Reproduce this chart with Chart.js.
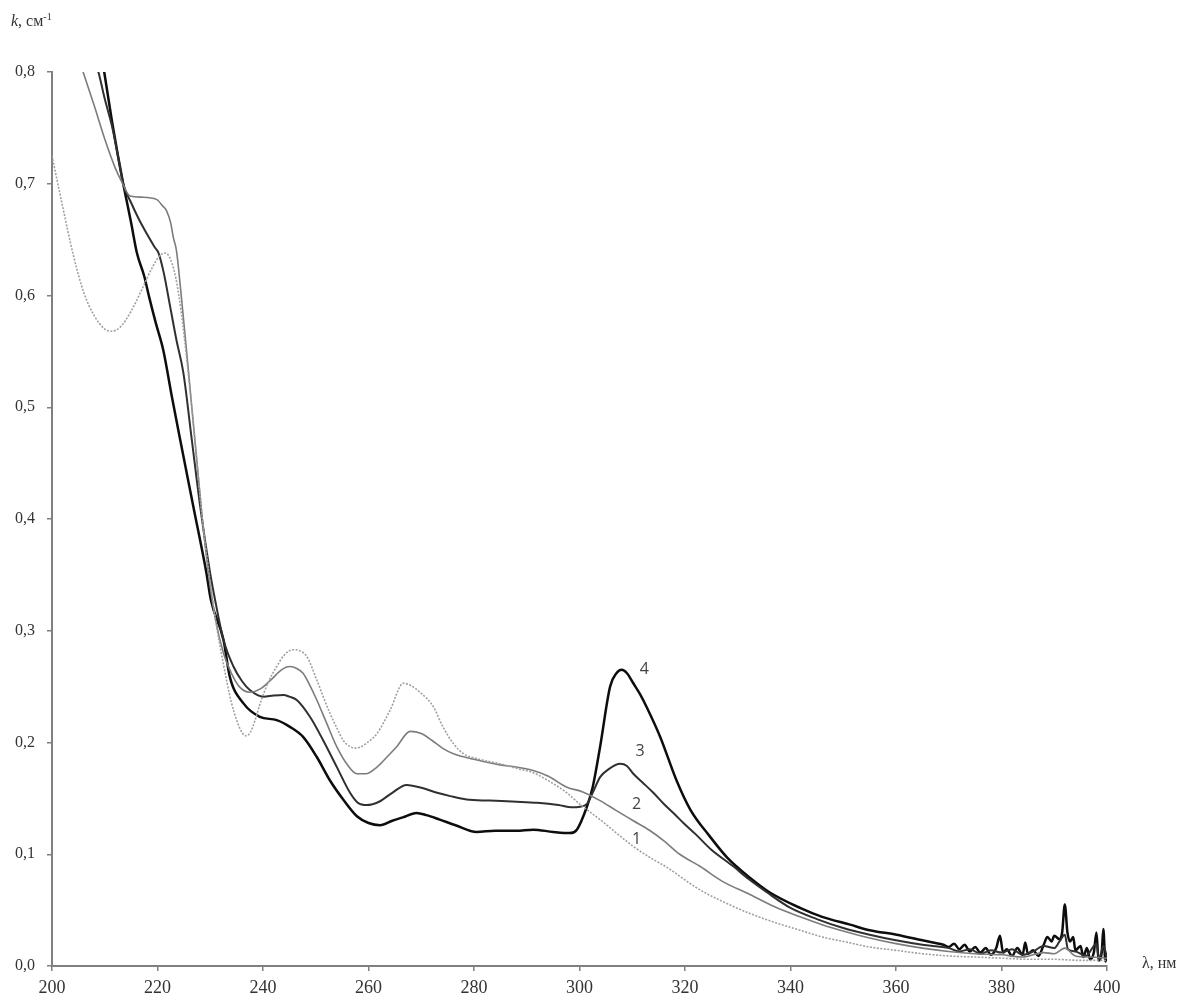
<!DOCTYPE html>
<html>
<head>
<meta charset="utf-8">
<script src="https://cdn.jsdelivr.net/npm/chart.js@4.4.1/dist/chart.umd.min.js"></script>
<style>
html,body{margin:0;padding:0;background:#fff;}
#wrap{position:relative;width:1185px;height:997px;}
</style>
</head>
<body>
<div id="wrap"><canvas id="c"></canvas></div>
<script>
// X ticks / Y ticks
const xTicks = [200, 220, 240, 260, 280, 300, 320, 340, 360, 380, 400];
const yTicks = [0.0, 0.1, 0.2, 0.3, 0.4, 0.5, 0.6, 0.7, 0.8];

// Curve 1
const wl1 = [200,202,204,206,208,210,211.3,213,215,217,219,220.5,221.5,222.5,223.5,224.5,225.5,226.5,227.5,228.5,229.8,231,232.5,234,235,236,236.8,237.6,238.5,239.4,241,242.6,244,245.7,247,248.3,250.2,251.5,252.7,254,255.2,256.3,257.4,258.5,259.5,261.6,264.1,266.6,268,270,272.3,274,276.1,278,281,284.9,288,291.2,294,297.6,300,303.9,307,310.2,313.4,317,320,322.9,327,332.3,337,341.8,346,351,355,360,365,370,375,380,385,390,395,400];
const k1 = [0.725,0.680,0.637,0.603,0.582,0.570,0.568,0.572,0.586,0.605,0.625,0.636,0.638,0.632,0.615,0.585,0.545,0.500,0.450,0.400,0.350,0.310,0.270,0.236,0.220,0.209,0.206,0.209,0.220,0.234,0.254,0.268,0.278,0.283,0.282,0.277,0.256,0.240,0.226,0.213,0.202,0.197,0.195,0.196,0.199,0.208,0.229,0.253,0.251,0.244,0.232,0.215,0.199,0.190,0.185,0.181,0.177,0.173,0.166,0.155,0.145,0.131,0.119,0.107,0.097,0.087,0.077,0.068,0.058,0.047,0.039,0.032,0.026,0.021,0.017,0.014,0.011,0.009,0.008,0.007,0.006,0.006,0.005,0.005];

// Curve 2
const wl2 = [200,202,204,205.9,208,210,212,213.2,214.8,217,219.8,221,221.7,222.5,223,223.6,224.5,225.5,226.5,227.5,228.5,229.7,231,232.5,234,235.5,237.5,239.5,241.5,243.5,245.1,246.5,247.6,249,250.2,252,254,256,257.8,259.5,261.6,263.5,265.3,267.9,270,272,274,276.1,280,284.9,288,291.2,294,297.6,300.5,303.9,307,310.2,313.4,316,319,322.9,327,332.3,337,341.8,346,351,355,360,365,370,375,380,384,388,390,392,394,397,400];
const k2 = [0.880,0.855,0.828,0.800,0.770,0.740,0.714,0.702,0.689,0.688,0.686,0.680,0.676,0.665,0.652,0.640,0.600,0.551,0.500,0.450,0.400,0.350,0.310,0.280,0.262,0.250,0.245,0.248,0.256,0.265,0.268,0.266,0.262,0.250,0.238,0.218,0.196,0.180,0.172,0.172,0.178,0.187,0.196,0.210,0.208,0.202,0.195,0.190,0.185,0.180,0.178,0.175,0.170,0.160,0.156,0.148,0.139,0.130,0.121,0.112,0.100,0.089,0.076,0.064,0.053,0.044,0.037,0.030,0.025,0.020,0.016,0.013,0.011,0.010,0.008,0.012,0.011,0.016,0.009,0.008,0.007];

// Curve 3
const wl3 = [205,207,208.8,210,211.4,212.5,213.5,215,216.5,218,219.5,220.2,221.2,222.4,223.6,224.9,226.5,228.1,230,230.9,232.5,234.4,236,237.5,240.1,242,243.9,245,246.4,248.9,251.4,254,256.5,258,259.7,262,264.5,267.2,270.4,273,275.5,278.6,283,288.1,292,296,298.5,300.1,301.4,302.5,303.9,305.5,307.7,309,310.2,312,314,316,318,319.7,322,325,329.2,332,335.5,340,345,350,355,360,365,370,372,374,376,378,380,382,384,386,388,390,391,392,392.6,394,396,398,398.5,399.3,400];
const k3 = [0.860,0.826,0.800,0.776,0.751,0.725,0.700,0.683,0.668,0.655,0.643,0.638,0.620,0.590,0.560,0.531,0.471,0.411,0.351,0.328,0.292,0.268,0.255,0.247,0.241,0.242,0.2425,0.241,0.238,0.223,0.202,0.178,0.155,0.146,0.144,0.147,0.155,0.162,0.159,0.155,0.152,0.149,0.148,0.147,0.146,0.144,0.142,0.1425,0.145,0.155,0.169,0.176,0.181,0.179,0.172,0.164,0.155,0.145,0.136,0.128,0.118,0.104,0.089,0.078,0.066,0.052,0.042,0.034,0.028,0.023,0.019,0.016,0.013,0.015,0.011,0.014,0.012,0.015,0.010,0.013,0.018,0.016,0.022,0.028,0.015,0.013,0.009,0.020,0.006,0.018,0.008];

// Curve 4
const wl4 = [206,208,209.9,211.4,212.5,213.5,215,216.1,217.5,218.4,219.7,221.1,222.7,224.3,226.8,229.3,230.1,232.5,233.7,236.3,239.4,242.6,245.1,247.6,250.2,252.7,255.2,257.8,260,262.2,264.5,266.5,269.1,271,273.5,276.5,280.5,284,288,291.2,295,298.2,299.5,301.4,302.5,303.9,305.8,307,308,309,310.2,311.5,312.7,315.3,318.4,321,324.7,328,332.3,336,341.8,346,351.3,355,360.1,365,367,369,370,371,372,373,374,375,376,377,378,379,379.7,380.3,381,382,383,384,384.5,385,386,387,388,388.7,389.5,390,391,391.5,392,392.5,393,393.6,394,395,395.5,396.2,396.8,397.5,398,398.4,399,399.3,399.7,400];
const k4 = [0.900,0.852,0.800,0.755,0.725,0.700,0.665,0.638,0.617,0.599,0.575,0.551,0.510,0.471,0.411,0.351,0.328,0.292,0.259,0.235,0.223,0.220,0.214,0.205,0.187,0.166,0.149,0.134,0.128,0.126,0.130,0.133,0.137,0.135,0.131,0.126,0.120,0.121,0.121,0.122,0.120,0.119,0.122,0.1425,0.160,0.196,0.250,0.262,0.265,0.262,0.253,0.243,0.232,0.205,0.166,0.140,0.116,0.097,0.079,0.066,0.052,0.044,0.037,0.032,0.028,0.023,0.021,0.019,0.017,0.020,0.015,0.019,0.013,0.017,0.012,0.016,0.010,0.016,0.027,0.012,0.015,0.009,0.016,0.010,0.021,0.011,0.014,0.009,0.019,0.026,0.022,0.027,0.024,0.030,0.055,0.030,0.022,0.026,0.014,0.018,0.008,0.016,0.006,0.012,0.030,0.005,0.012,0.033,0.004,0.010];

// Curve number labels [wavelength, k]
const labelNames = ['1', '2', '3', '4'];
const labelWl = [310.8, 310.8, 311.5, 312.3];
const labelK = [0.113, 0.145, 0.192, 0.265];

const toXY = (wl, k) => wl.map((x, i) => ({x: x, y: k[i]}));

const textPlugin = {
  id: 'texts',
  afterDraw(chart) {
    const ctx = chart.ctx;
    const xs = chart.scales.x, ys = chart.scales.y;
    const ca = chart.chartArea;
    ctx.save();
    // y title
    ctx.fillStyle = '#333';
    ctx.textBaseline = 'middle';
    ctx.textAlign = 'left';
    ctx.font = 'italic 16px "Liberation Serif"';
    let x0 = 11, y0 = 22;
    ctx.fillText('k', x0, y0);
    x0 += ctx.measureText('k').width;
    ctx.font = '16px "Liberation Serif"';
    ctx.fillText(', см', x0, y0);
    x0 += ctx.measureText(', см').width;
    ctx.font = '10px "Liberation Serif"';
    ctx.fillText('-1', x0, y0 - 5);
    // x title
    ctx.font = '16px "Liberation Serif"';
    ctx.fillText('λ, нм', ca.right + 35, ca.bottom - 2);
    // curve labels
    ctx.font = '16px "Open Sans"';
    ctx.fillStyle = '#444';
    ctx.textAlign = 'center';
    labelNames.forEach((n, i) => {
      ctx.fillText(n, xs.getPixelForValue(labelWl[i]), ys.getPixelForValue(labelK[i]));
    });
    ctx.restore();
  }
};

new Chart(document.getElementById('c'), {
  type: 'line',
  data: {
    datasets: [
      {label: '1', data: toXY(wl1, k1), borderColor: '#a0a0a0', borderWidth: 1.6, borderDash: [2, 1.5]},
      {label: '2', data: toXY(wl2, k2), borderColor: '#7c7c7c', borderWidth: 1.6},
      {label: '3', data: toXY(wl3, k3), borderColor: '#303030', borderWidth: 2},
      {label: '4', data: toXY(wl4, k4), borderColor: '#0d0d0d', borderWidth: 2.5}
    ]
  },
  options: {
    responsive: true,
    maintainAspectRatio: false,
    animation: false,
    events: [],
    layout: {padding: {top: 72, right: 78, left: 0, bottom: 0}},
    elements: {
      point: {radius: 0},
      line: {cubicInterpolationMode: 'monotone', fill: false}
    },
    datasets: {line: {clip: 0}},
    plugins: {legend: {display: false}, tooltip: {enabled: false}},
    scales: {
      x: {
        type: 'linear', min: 200, max: 400,
        afterFit: s => { s.height = 31; },
        afterBuildTicks: s => { s.ticks = xTicks.map(v => ({value: v})); },
        border: {display: true, color: '#808080', width: 2},
        grid: {display: true, drawOnChartArea: false, drawTicks: true, tickLength: 5, color: '#808080', lineWidth: 1.5},
        ticks: {padding: 6, color: '#333', font: {family: '"Liberation Serif"', size: 18}, maxRotation: 0, autoSkip: false}
      },
      y: {
        type: 'linear', min: 0, max: 0.8,
        afterFit: s => { s.width = 52; },
        afterBuildTicks: s => { s.ticks = yTicks.map(v => ({value: v})); },
        border: {display: true, color: '#808080', width: 2},
        grid: {display: true, drawOnChartArea: false, drawTicks: true, tickLength: 5, color: '#808080', lineWidth: 1.5},
        ticks: {padding: 12, color: '#333', font: {family: '"Liberation Serif"', size: 16},
          callback: v => v.toFixed(1).replace('.', ',')}
      }
    }
  },
  plugins: [textPlugin]
});
</script>
</body>
</html>
